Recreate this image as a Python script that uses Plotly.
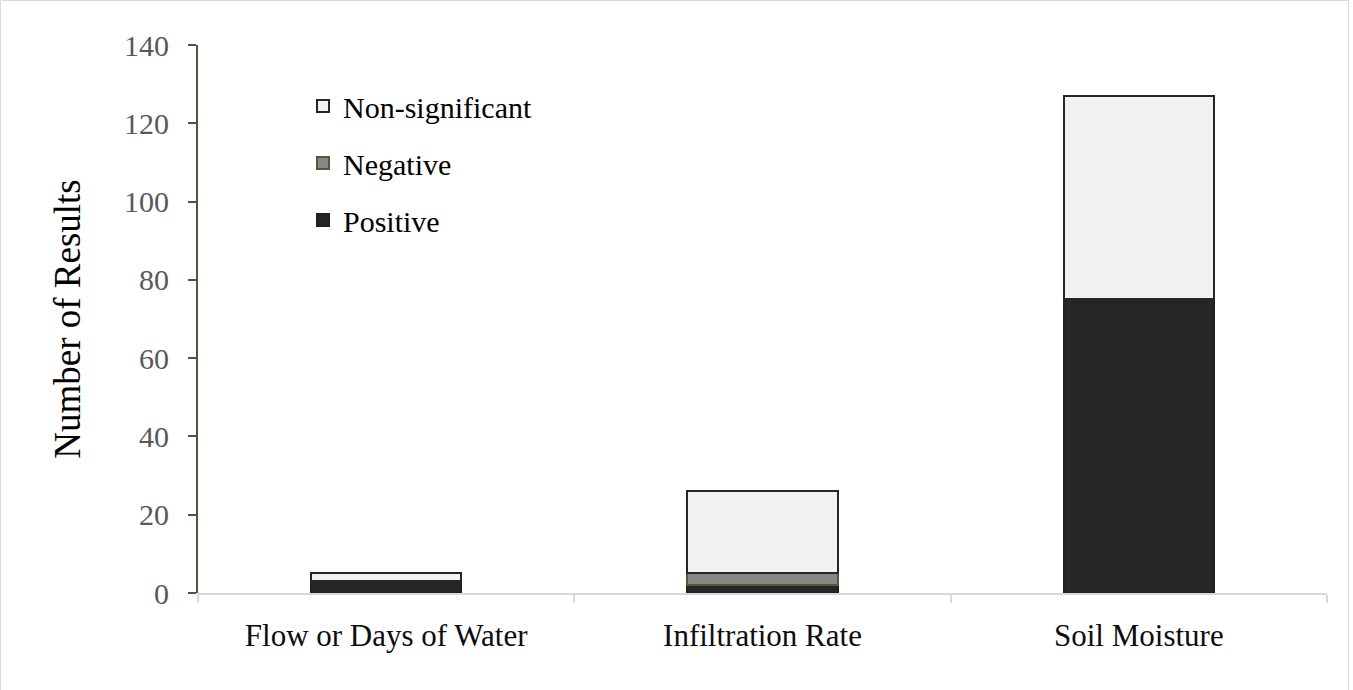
import plotly.graph_objects as go

categories = ["Flow or Days of Water", "Infiltration Rate", "Soil Moisture"]
positive = [3, 2, 75]
negative = [0, 3, 0]
non_significant = [2, 21, 52]

y_ticks = [0, 20, 40, 60, 80, 100, 120, 140]

FONT = "Liberation Serif, Times New Roman, serif"

fig = go.Figure()
fig.add_trace(go.Bar(name="Positive", x=categories, y=positive,
                     marker=dict(color="#262626", line=dict(color="#22211a", width=2)),
                     legendgroup="p", legendrank=3))
fig.add_trace(go.Bar(name="Negative", x=categories, y=negative,
                     marker=dict(color="#878787", line=dict(color="#5b5638", width=2)),
                     legendgroup="n", legendrank=2))
fig.add_trace(go.Bar(name="Non-significant", x=categories, y=non_significant,
                     marker=dict(color="#f2f2f2", line=dict(color="#262626", width=2)),
                     legendgroup="s", legendrank=1))

W, H = 1353, 690
L, R, T, B = 198, 26, 45, 97
pw = W - L - R
ph = H - T - B

fig.update_layout(
    width=W, height=H,
    barmode="stack", bargap=0.6,
    paper_bgcolor="white", plot_bgcolor="white",
    margin=dict(l=L, r=R, t=T, b=B, pad=0),
    font=dict(family=FONT, color="#000000"),
    showlegend=True,
    legend=dict(x=(303 - L) / pw, y=(H - B - 80) / ph, xanchor="left", yanchor="top",
                traceorder="grouped", tracegroupgap=15,
                font=dict(size=30, family=FONT, color="#000000"),
                bgcolor="rgba(0,0,0,0)", itemwidth=30),
    xaxis=dict(showline=True, linecolor="#d9d9d9", linewidth=2,
               ticks="outside", tickson="boundaries", ticklen=8, tickcolor="#d9d9d9",
               tickwidth=2,
               tickfont=dict(size=31, family=FONT, color="#0d0d0d"),
               ticklabelstandoff=14,
               showgrid=False, zeroline=False),
    yaxis=dict(range=[0, 140], tickvals=y_ticks, showline=True, linecolor="#57523d",
               linewidth=2, ticks="outside", ticklen=8, tickcolor="#57523d", tickwidth=2,
               tickfont=dict(size=30, family=FONT, color="#595959"),
               ticklabelstandoff=13,
               showgrid=False, zeroline=False,
               title=dict(text="Number of Results", font=dict(size=37, family=FONT, color="#000000"),
                          standoff=32)),
    shapes=[dict(type="rect", xref="paper", yref="paper",
                 x0=(0.5 - L) / pw, x1=(1348.5 - L) / pw,
                 y0=-(B + 5) / ph, y1=(H - B - 0.5) / ph,
                 line=dict(color="#d9d9d9", width=1))],
)

fig.write_html("out.html", config={"displayModeBar": False},
               post_script="document.body.style.margin='0';")
